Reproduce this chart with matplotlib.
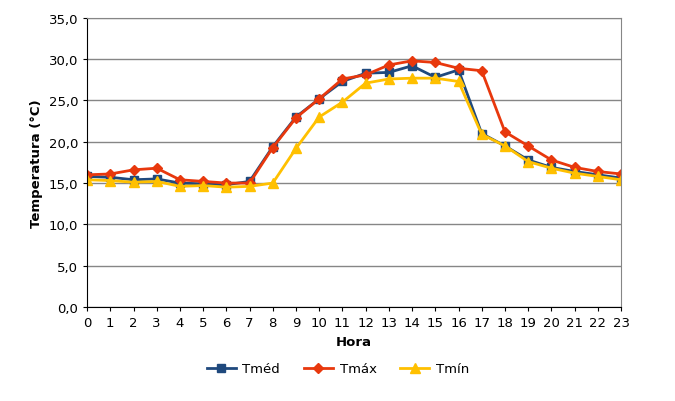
import matplotlib.pyplot as plt

hora = list(range(24))
tmed = [15.8, 15.7, 15.4, 15.5, 15.0, 14.9, 14.8, 15.2, 19.4, 23.0, 25.2, 27.3, 28.3, 28.4, 29.2, 27.8, 28.7, 21.0, 19.5, 17.8, 16.9, 16.4, 16.0, 15.6]
tmax = [16.0, 16.1, 16.6, 16.8, 15.4, 15.2, 15.0, 15.0, 19.3, 22.9, 25.2, 27.6, 28.1, 29.3, 29.8, 29.6, 28.9, 28.6, 21.2, 19.5, 17.8, 16.9, 16.4, 16.1]
tmin = [15.4, 15.3, 15.1, 15.2, 14.6, 14.7, 14.5, 14.6, 15.0, 19.2, 23.0, 24.8, 27.1, 27.6, 27.7, 27.7, 27.3, 20.9, 19.5, 17.6, 16.8, 16.2, 15.8, 15.4]

fig, ax = plt.subplots(figsize=(6.75, 4.02), dpi=100)
fig.subplots_adjust(left=0.129, right=0.92, top=0.953, bottom=0.234)

ax.plot(hora, tmed, color='#1F497D', marker='s', markersize=6, linewidth=2, label='Tméd')
ax.plot(hora, tmax, color='#E8380D', marker='D', markersize=5.5, linewidth=2, label='Tmáx')
ax.plot(hora, tmin, color='#FFC000', marker='^', markersize=6.5, linewidth=2, label='Tmín')

ax.set_xlim(0, 23)
ax.set_ylim(0, 35)
ax.set_xticks(hora)
ax.set_yticks(range(0, 36, 5))
ax.set_yticklabels([f'{v:.1f}'.replace('.', ',') for v in range(0, 36, 5)])
ax.grid(axis='y', color='#868686', linewidth=1)
ax.set_axisbelow(True)
for s in ['top', 'right']:
    ax.spines[s].set_color('#868686')
ax.tick_params(labelsize=9.5, length=3)

ax.set_xlabel('Hora', fontsize=9.5, fontweight='bold')
ax.set_ylabel('Temperatura (°C)', fontsize=9.5, fontweight='bold')
ax.legend(loc='upper center', bbox_to_anchor=(0.47, -0.15), ncol=3, frameon=False,
          fontsize=9.5, handlelength=2.2, columnspacing=1.8, handletextpad=0.5)

plt.savefig('out.png', dpi=100, facecolor='white')
